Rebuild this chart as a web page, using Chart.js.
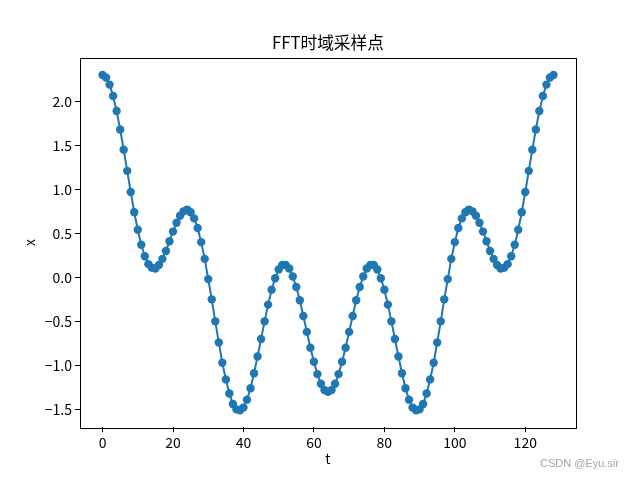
<!DOCTYPE html>
<html><head><meta charset="utf-8">
<script src="https://cdn.jsdelivr.net/npm/chart.js@4/dist/chart.umd.min.js"></script>
<style>html,body{margin:0;padding:0;background:#fff}#wrap{width:640px;height:480px;position:relative}</style>
</head><body><div id="wrap"><canvas id="c" width="640" height="480"></canvas></div>
<script>
const chartTitle = 'FFT时域采样点';
const xLabel = 't';
const yLabel = 'x';
const watermark = 'CSDN @Eyu.sir';

const tSamples = [0,1,2,3,4,5,6,7,8,9,10,11,12,13,14,15,16,17,18,19,20,21,22,23,24,25,26,27,28,29,30,31,32,33,34,35,36,37,38,39,40,41,42,43,44,45,46,47,48,49,50,51,52,53,54,55,56,57,58,59,60,61,62,63,64,65,66,67,68,69,70,71,72,73,74,75,76,77,78,79,80,81,82,83,84,85,86,87,88,89,90,91,92,93,94,95,96,97,98,99,100,101,102,103,104,105,106,107,108,109,110,111,112,113,114,115,116,117,118,119,120,121,122,123,124,125,126,127,128];

const xValues = [
 2.30, 2.27, 2.19, 2.06, 1.89, 1.68, 1.45, 1.21, 0.97, 0.74,
 0.54, 0.37, 0.24, 0.15, 0.11, 0.10, 0.14, 0.21, 0.30, 0.41,
 0.52, 0.62, 0.70, 0.75, 0.77, 0.74, 0.67, 0.56, 0.40, 0.21,
 -0.02, -0.25, -0.50, -0.74, -0.97, -1.16, -1.32, -1.44, -1.50, -1.51,
 -1.48, -1.39, -1.26, -1.09, -0.90, -0.70, -0.50, -0.31, -0.14, -0.01,
 0.09, 0.14, 0.14, 0.10, 0.01, -0.11, -0.26, -0.44, -0.62, -0.80,
 -0.96, -1.10, -1.21, -1.28, -1.30,
 -1.28, -1.21, -1.10, -0.96, -0.80, -0.62, -0.44, -0.26, -0.11, 0.01,
 0.10, 0.14, 0.14, 0.09, -0.01, -0.14, -0.31, -0.50, -0.70, -0.90,
 -1.09, -1.26, -1.39, -1.48, -1.51, -1.50, -1.44, -1.32, -1.16, -0.97,
 -0.74, -0.50, -0.25, -0.02, 0.21, 0.40, 0.56, 0.67, 0.74, 0.77,
 0.75, 0.70, 0.62, 0.52, 0.41, 0.30, 0.21, 0.14, 0.10, 0.11,
 0.15, 0.24, 0.37, 0.54, 0.74, 0.97, 1.21, 1.45, 1.68, 1.89,
 2.06, 2.19, 2.27, 2.30
];

const xTickValues = [0, 20, 40, 60, 80, 100, 120];
const yTickValues = [-1.5, -1.0, -0.5, 0.0, 0.5, 1.0, 1.5, 2.0];

const FONT = "'Noto Sans CJK SC', 'DejaVu Sans', sans-serif";
const BLUE = '#1f77b4';

const points = tSamples.map((t, i) => ({x: t, y: xValues[i]}));

const decor = {
  id: 'decor',
  afterDraw(chart) {
    const ctx = chart.ctx, a = chart.chartArea;
    ctx.save();
    ctx.strokeStyle = '#000';
    ctx.lineWidth = 1;
    ctx.strokeRect(Math.round(a.left) + 0.5, Math.round(a.top) + 0.5,
                   Math.round(a.right - a.left), Math.round(a.bottom - a.top));
    ctx.fillStyle = '#000';
    ctx.textAlign = 'center';
    ctx.textBaseline = 'middle';
    ctx.font = '16.7px ' + FONT;
    ctx.fillText(chartTitle, (a.left + a.right) / 2, 43);
    ctx.font = '14px ' + FONT;
    ctx.fillText(xLabel, (a.left + a.right) / 2, 459);
    ctx.save();
    ctx.translate(30, (a.top + a.bottom) / 2);
    ctx.rotate(-Math.PI / 2);
    ctx.fillText(yLabel, 0, 0);
    ctx.restore();
    ctx.fillStyle = '#a6a6a6';
    ctx.textAlign = 'left';
    ctx.font = "11px 'Liberation Sans', Arial, sans-serif";
    ctx.fillText(watermark, 540, 464);
    ctx.restore();
  }
};

new Chart(document.getElementById('c'), {
  type: 'line',
  data: {
    datasets: [{
      data: points,
      borderColor: BLUE,
      backgroundColor: BLUE,
      borderWidth: 2,
      pointRadius: 4.2,
      pointBorderWidth: 0,
      pointBackgroundColor: BLUE,
      pointHoverRadius: 4.2,
      tension: 0,
      fill: false
    }]
  },
  options: {
    responsive: false,
    devicePixelRatio: 1,
    animation: false,
    events: [],
    layout: {padding: {top: 57.6, right: 64, left: 0, bottom: 0}},
    plugins: {legend: {display: false}, title: {display: false}, tooltip: {enabled: false}},
    scales: {
      x: {
        type: 'linear',
        min: -6.4, max: 134.4,
        afterFit: s => { s.height = 52.8; },
        afterBuildTicks: s => { s.ticks = xTickValues.map(v => ({value: v})); },
        grid: {drawOnChartArea: false, drawTicks: true, tickLength: 5, color: '#000'},
        border: {display: false},
        ticks: {color: '#000', font: {family: FONT, size: 14}, padding: 2, maxRotation: 0,
                callback: v => String(v)}
      },
      y: {
        type: 'linear',
        min: -1.703, max: 2.497,
        afterFit: s => { s.width = 80; },
        afterBuildTicks: s => { s.ticks = yTickValues.map(v => ({value: v})); },
        grid: {drawOnChartArea: false, drawTicks: true, tickLength: 5, color: '#000'},
        border: {display: false},
        ticks: {color: '#000', font: {family: FONT, size: 14}, padding: 3,
                callback: v => (v < 0 ? '\u2212' : '') + Math.abs(v).toFixed(1)}
      }
    }
  },
  plugins: [decor]
});
</script>
</body></html>
